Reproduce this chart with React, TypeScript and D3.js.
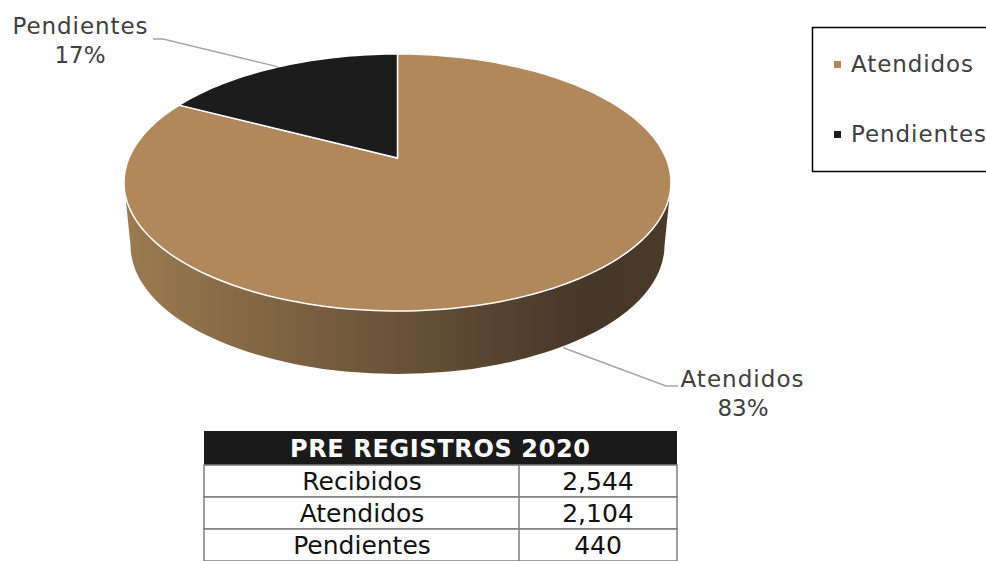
import * as d3 from "d3";

// chart data
const categories = ["Atendidos", "Pendientes"];
const values = [2104, 440];
const sliceColors = ["#b0885b", "#1c1c1c"];

// table data
const tableTitle = "PRE REGISTROS 2020";
const tableLabels = ["Recibidos", "Atendidos", "Pendientes"];
const tableValues = [2544, 2104, 440];

const W = 986;
const H = 561;

// 3d pie geometry (top face ellipse + perspective shift of the centre)
const cx = 397.5;
const cy = 182.5;
const rx = 273.5;
const ry = 128.5;
const depth = 63;
const rxBottom = 267;
const tilt = -0.19;

const font = "'DejaVu Sans', Verdana, sans-serif";
const textColor = "#404040";

// d3 pie angle -> screen point on the top face (r in 0..1)
function project(angle: number, r = 1): [number, number] {
    const x = Math.sin(angle) * r;
    const y = -Math.cos(angle) * r;
    const k = 1 + tilt * y;
    const px = (x * Math.sqrt(1 - tilt * tilt)) / k;
    const py = (y + tilt) / k;
    return [cx + rx * px, cy + ry * py];
}

function slicePath(a0: number, a1: number) {
    const steps = Math.max(8, Math.ceil(((a1 - a0) / (2 * Math.PI)) * 240));
    const pts = d3.range(steps + 1).map((i) => project(a0 + ((a1 - a0) * i) / steps));
    const c = project(0, 0);
    return d3.line()([c, ...pts]) + "Z";
}

export default function App() {
    const pie = d3.pie<number>().sort(null).value((d) => d);
    const arcs = pie(values);
    const total = d3.sum(values);
    const pct = d3.format(".0%");

    const sidePath =
        `M${cx - rx},${cy} A${rx},${ry} 0 0 0 ${cx + rx},${cy}` +
        ` L${cx + rxBottom},${cy + depth} A${rxBottom},${ry} 0 0 1 ${cx - rxBottom},${cy + depth} Z`;

    // leader lines
    const midA = (arcs[0].startAngle + arcs[0].endAngle) / 2;
    const midP = (arcs[1].startAngle + arcs[1].endAngle) / 2;
    const [ax, ay] = project(midA);
    const [pxp, pyp] = project(midP);
    const atStart: [number, number] = [ax, ay + depth];
    const pStart: [number, number] = [pxp, pyp];

    const xCol = d3.scaleOrdinal<string, number>().domain(["label", "value"]).range([362, 598]);
    const yRow = d3.scaleBand<number>().domain(d3.range(tableLabels.length)).range([465, 561]);
    const numFmt = d3.format(",");

    return (
        <svg
            width={W}
            height={H}
            viewBox={`0 0 ${W} ${H}`}
            style={{ position: "absolute", left: 0, top: 0, background: "#fff" }}
        >
            <defs>
                <linearGradient id="side" x1="0" x2="1" y1="0" y2="0">
                    <stop offset="0" stopColor="#9b7b50" />
                    <stop offset="0.5" stopColor="#695238" />
                    <stop offset="0.85" stopColor="#453628" />
                    <stop offset="1" stopColor="#4a3a29" />
                </linearGradient>
            </defs>

            {/* side wall */}
            <path d={sidePath} fill="url(#side)" />

            {/* top face */}
            {arcs.map((a, i) => (
                <path
                    key={categories[i]}
                    d={slicePath(a.startAngle, a.endAngle)}
                    fill={sliceColors[i]}
                    stroke="#fff"
                    strokeWidth={1.5}
                    strokeLinejoin="round"
                />
            ))}

            {/* leader lines */}
            <polyline
                points={`${pStart[0]},${pStart[1]} 163,39 153,39`}
                fill="none"
                stroke="#a6a6a6"
                strokeWidth={1.5}
            />
            <polyline
                points={`${atStart[0]},${atStart[1]} 666,386 678,386`}
                fill="none"
                stroke="#a6a6a6"
                strokeWidth={1.5}
            />

            {/* data labels */}
            <g fontFamily={font} fontSize={23} fill={textColor} textAnchor="middle">
                <text x={80} y={34} textLength={135}>{categories[1]}</text>
                <text x={80} y={63}>{pct(values[1] / total)}</text>
                <text x={742} y={387} textLength={123}>{categories[0]}</text>
                <text x={743} y={416}>{pct(values[0] / total)}</text>
            </g>

            {/* legend */}
            <rect x={812.5} y={27.5} width={190} height={144} fill="#fff" stroke="#000" strokeWidth={1.5} />
            {categories.map((c, i) => (
                <g key={c} transform={`translate(834, ${61 + i * 70})`}>
                    <rect x={0} y={0} width={7} height={7} fill={sliceColors[i]} />
                    <text
                        x={17}
                        y={11}
                        fontFamily={font}
                        fontSize={23}
                        fill={textColor}
                        textLength={c === "Atendidos" ? 122 : 135}
                    >
                        {c}
                    </text>
                </g>
            ))}

            {/* table */}
            <rect x={204} y={431} width={473} height={34} fill="#1a1a1a" />
            <text
                x={440}
                y={457}
                textAnchor="middle"
                fontFamily={font}
                fontWeight={700}
                fontSize={24}
                fill="#fff"
                textLength={300}
            >
                {tableTitle}
            </text>
            {tableLabels.map((l, i) => (
                <g key={l}>
                    <rect
                        x={204}
                        y={yRow(i)}
                        width={473}
                        height={yRow.bandwidth()}
                        fill="#fff"
                        stroke="#7f7f7f"
                        strokeWidth={1.5}
                    />
                    <line
                        x1={519}
                        x2={519}
                        y1={yRow(i)}
                        y2={(yRow(i) ?? 0) + yRow.bandwidth()}
                        stroke="#7f7f7f"
                        strokeWidth={1.5}
                    />
                    <text
                        x={xCol("label")}
                        y={(yRow(i) ?? 0) + 25}
                        textAnchor="middle"
                        fontFamily={font}
                        fontSize={25}
                        fill="#111"
                    >
                        {l}
                    </text>
                    <text
                        x={xCol("value")}
                        y={(yRow(i) ?? 0) + 25}
                        textAnchor="middle"
                        fontFamily={font}
                        fontSize={25}
                        fill="#111"
                    >
                        {numFmt(tableValues[i])}
                    </text>
                </g>
            ))}
        </svg>
    );
}
